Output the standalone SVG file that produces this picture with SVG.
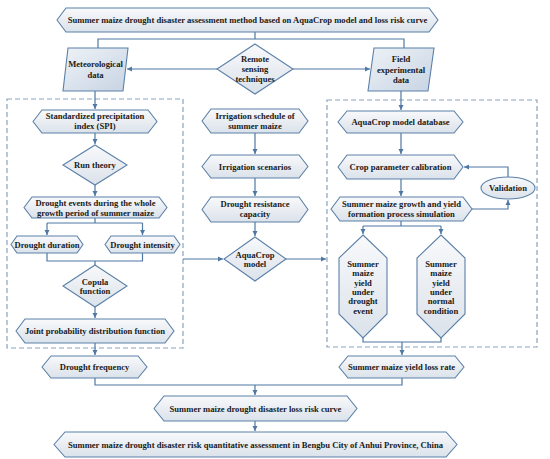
<svg xmlns="http://www.w3.org/2000/svg" width="550" height="459" viewBox="0 0 550 459">
<defs>
<linearGradient id="g" x1="0" y1="0" x2="0" y2="1">
<stop offset="0" stop-color="#f8f9fb"/>
<stop offset="1" stop-color="#dbe2ea"/>
</linearGradient>
<linearGradient id="gp" x1="0" y1="0" x2="1" y2="1">
<stop offset="0" stop-color="#eef2f7"/>
<stop offset="1" stop-color="#c7d4e3"/>
</linearGradient>
<marker id="ah" markerWidth="6" markerHeight="6" refX="5" refY="3" orient="auto" markerUnits="userSpaceOnUse">
<path d="M0,0.5 L5,3 L0,5.5 Z" fill="#4f78a4"/>
</marker>
</defs>
<style>
.n{fill:url(#g);stroke:#5b80a8;stroke-width:1.1}
.p{fill:url(#gp);stroke:#5b80a8;stroke-width:1.1}
.d{fill:none;stroke:#8aa3bf;stroke-width:1.2;stroke-dasharray:5,3}
.c{fill:none;stroke:#4f78a4;stroke-width:1.2}
.a{marker-end:url(#ah)}
text{font-family:"Liberation Serif","Times New Roman",serif;font-weight:bold;font-size:8.6px;fill:#1a1a1a;text-anchor:middle}
</style>
<rect width="550" height="459" fill="#ffffff"/>

<g id="boxes">
<rect class="d" x="7" y="99" width="176" height="249"/>
<rect class="d" x="327" y="100" width="210" height="247"/>
</g>

<g id="connectors">
<path class="c" d="M255,32 V39 M98,48 V39 H404 V48"/>
<path class="c a" d="M217,69 H127"/>
<path class="c a" d="M293,69 H370"/>
<path class="c a" d="M95,91 V109"/>
<path class="c a" d="M95,133 V144"/>
<path class="c a" d="M95,185 V196"/>
<path class="c" d="M95,218 V223 H47 M95,223 H142.5"/>
<path class="c a" d="M47,223 V235"/>
<path class="c a" d="M142.5,223 V235"/>
<path class="c" d="M47,253 V261 H142.5 V253 M95,261 V265"/>
<path class="c a" d="M95,307 V318"/>
<path class="c a" d="M95,343 V355"/>
<path class="c" d="M95,378 V385 H402 V378"/>
<path class="c a" d="M255,385 V395"/>
<path class="c a" d="M255,421 V431"/>
<path class="c a" d="M255,133 V154"/>
<path class="c a" d="M255,178 V196"/>
<path class="c a" d="M255,222 V236"/>
<path class="c a" d="M183,259 H223"/>
<path class="c a" d="M286,259 H326"/>
<path class="c a" d="M401,91 V110"/>
<path class="c a" d="M401,133 V154"/>
<path class="c a" d="M401,179 V196"/>
<path class="c" d="M401,221 V226 H363 M401,226 H441"/>
<path class="c a" d="M363,226 V234"/>
<path class="c a" d="M441,226 V234"/>
<path class="c" d="M363,338 V342 H441 V338"/>
<path class="c a" d="M402,342 V355"/>
<path class="c a" d="M472,209 H508 V200"/>
<path class="c a" d="M508,177 V167 H464"/>
</g>

<g id="title">
<polygon class="n" points="57,20 66,8 429,8 438,20 429,32 66,32"/>
<text x="247.5" y="23">Summer maize drought disaster assessment method based on AquaCrop model and loss risk curve</text>
</g>

<g id="meteorological">
<polygon class="p" points="68,48 128,48 123,91 63,91"/>
<text x="95.5" y="67">Meteorological</text>
<text x="95.5" y="78">data</text>
</g>

<g id="remote">
<polygon class="n" points="255,44 293,69 255,94 217,69"/>
<text x="255" y="62">Remote</text>
<text x="255" y="72">sensing</text>
<text x="255" y="82">techniques</text>
</g>

<g id="field">
<polygon class="p" points="374,48 434,48 428,91 368,91"/>
<text x="401" y="62">Field</text>
<text x="401" y="72.5">experimental</text>
<text x="401" y="83">data</text>
</g>

<g id="spi">
<polygon class="n" points="33,121.5 42,110 148,110 157,121.5 148,133 42,133"/>
<text x="95" y="119">Standardized precipitation</text>
<text x="95" y="129">index (SPI)</text>
</g>

<g id="run">
<polygon class="n" points="95,145 127,165 95,185 63,165"/>
<text x="95" y="168">Run theory</text>
</g>

<g id="events">
<polygon class="n" points="24,207.5 32,197 159,197 167,207.5 159,218 32,218"/>
<text x="95.5" y="206">Drought events during the whole</text>
<text x="95.5" y="216">growth period of summer maize</text>
</g>

<g id="duration">
<polygon class="n" points="11,244.5 17,236 77,236 83,244.5 77,253 17,253"/>
<text x="47" y="248">Drought duration</text>
</g>

<g id="intensity">
<polygon class="n" points="105,244.5 111,236 174,236 180,244.5 174,253 111,253"/>
<text x="142.5" y="248">Drought intensity</text>
</g>

<g id="copula">
<polygon class="n" points="95,265 127,286 95,307 63,286"/>
<text x="95" y="284.5">Copula</text>
<text x="95" y="294">function</text>
</g>

<g id="joint">
<polygon class="n" points="16,331 25,319 165,319 174,331 165,343 25,343"/>
<text x="95" y="334">Joint probability distribution function</text>
</g>

<g id="frequency">
<polygon class="n" points="42,367 51,356 138,356 147,367 138,378 51,378"/>
<text x="94.5" y="370">Drought frequency</text>
</g>

<g id="schedule">
<polygon class="n" points="202,121 211,109 299,109 308,121 299,133 211,133"/>
<text x="255" y="119">Irrigation schedule of</text>
<text x="255" y="129">summer maize</text>
</g>

<g id="scenarios">
<polygon class="n" points="202,166.5 211,155 299,155 308,166.5 299,178 211,178"/>
<text x="255" y="169.5">Irrigation scenarios</text>
</g>

<g id="resistance">
<polygon class="n" points="202,209.5 211,197 299,197 308,209.5 299,222 211,222"/>
<text x="255" y="207">Drought resistance</text>
<text x="255" y="217">capacity</text>
</g>

<g id="aquacrop">
<polygon class="n" points="255,237 286,259 255,281 224,259"/>
<text x="255" y="257.5">AquaCrop</text>
<text x="255" y="267">model</text>
</g>

<g id="database">
<polygon class="n" points="338,122 347,111 454,111 463,122 454,133 347,133"/>
<text x="400.5" y="125">AquaCrop model database</text>
</g>

<g id="calibration">
<polygon class="n" points="338,167 347,155 454,155 463,167 454,179 347,179"/>
<text x="400.5" y="170">Crop parameter calibration</text>
</g>

<g id="validation">
<ellipse class="n" cx="508" cy="188" rx="27" ry="11"/>
<text x="508" y="191">Validation</text>
</g>

<g id="growth">
<polygon class="n" points="331,209 340,197 463,197 472,209 463,221 340,221"/>
<text x="401.5" y="206.5">Summer maize growth and yield</text>
<text x="401.5" y="216.5">formation process simulation</text>
</g>

<g id="drought-yield">
<polygon class="n" points="363,235 387,258 387,314 363,338 339,314 339,258"/>
<text x="363" y="267">Summer</text>
<text x="363" y="276.3">maize</text>
<text x="363" y="285.6">yield</text>
<text x="363" y="294.9">under</text>
<text x="363" y="304.2">drought</text>
<text x="363" y="313.5">event</text>
</g>

<g id="normal-yield">
<polygon class="n" points="441,235 465,258 465,314 441,338 417,314 417,258"/>
<text x="441" y="267">Summer</text>
<text x="441" y="276.3">maize</text>
<text x="441" y="285.6">yield</text>
<text x="441" y="294.9">under</text>
<text x="441" y="304.2">normal</text>
<text x="441" y="313.5">condition</text>
</g>

<g id="lossrate">
<polygon class="n" points="339,367 348,356 455,356 464,367 455,378 348,378"/>
<text x="401.5" y="370">Summer maize yield loss rate</text>
</g>

<g id="riskcurve">
<polygon class="n" points="154,408.5 164,396 347,396 357,408.5 347,421 164,421"/>
<text x="255.5" y="411.5">Summer maize drought disaster loss risk curve</text>
</g>

<g id="assessment">
<polygon class="n" points="54,444.5 65,432 446,432 457,444.5 446,457 65,457"/>
<text x="255.5" y="447.5">Summer maize drought disaster risk quantitative assessment in Bengbu City of Anhui Province, China</text>
</g>
</svg>
